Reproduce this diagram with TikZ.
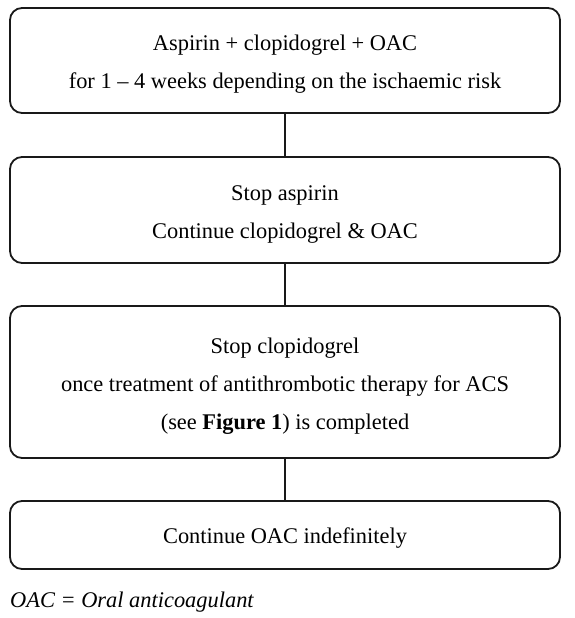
\documentclass[tikz,border=0pt]{standalone}
\usepackage{fontspec}
\setmainfont{Liberation Serif}
\begin{document}
\begin{tikzpicture}[x=1pt,y=-1pt,
  flowbox/.style={draw=black!90,line width=1.8pt,rounded corners=12pt,minimum width=550pt,inner sep=0pt},
  boxtext/.style={align=center,inner sep=0pt,font=\fontsize{22.4}{38}\selectfont},
  link/.style={draw=black!90,line width=2pt}]
\useasboundingbox (0,0) rectangle (574,618);
\node[flowbox,minimum height=105pt] (b1) at (285,60.5) {};
\node[flowbox,minimum height=106pt] (b2) at (285,210) {};
\node[flowbox,minimum height=152pt] (b3) at (285,382) {};
\node[flowbox,minimum height=68pt] (b4) at (285,535) {};
\node[boxtext] (t1) at ([yshift=-4pt]b1.center) {Aspirin + clopidogrel + OAC\\for 1 -- 4 weeks depending on the ischaemic risk};
\node[boxtext] (t2) at ([yshift=-4pt]b2.center) {Stop aspirin\\Continue clopidogrel \& OAC};
\node[boxtext] (t3) at ([yshift=-4pt]b3.center) {Stop clopidogrel\\once treatment of antithrombotic therapy for ACS\\(see \textbf{Figure 1}) is completed};
\node[boxtext] (t4) at ([yshift=-3.5pt]b4.center) {Continue OAC indefinitely};
\draw[link] (b1.south) -- (b2.north);
\draw[link] (b2.south) -- (b3.north);
\draw[link] (b3.south) -- (b4.north);
\node[anchor=west,inner sep=0pt,font=\fontsize{22.4}{26}\selectfont\itshape] (fn) at (10,602) {OAC = Oral anticoagulant};
\end{tikzpicture}
\end{document}
